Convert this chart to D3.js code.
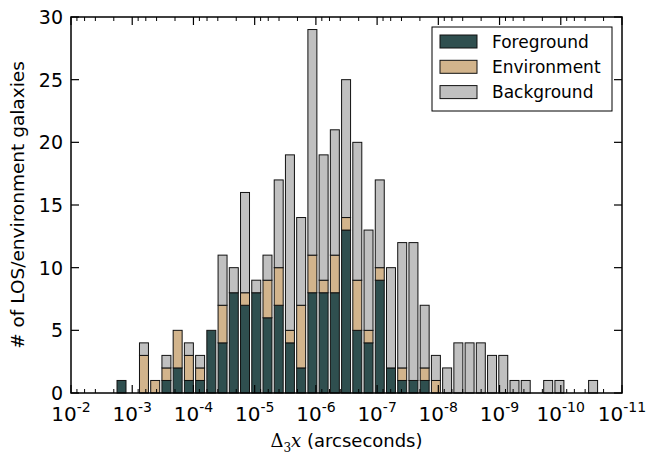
<!DOCTYPE html>
<html>
<head>
<meta charset="utf-8">
<script src="https://cdn.jsdelivr.net/npm/d3@7"></script>
<style>
  body { margin: 0; background: #fff; }
  text { font-family: "DejaVu Sans", sans-serif; }
</style>
</head>
<body>
<div id="chart"></div>
<script>
const width = 647;
const height = 455;
const margin = {left: 71, right: 25, top: 17, bottom: 62};

// histogram bins in log10(arcsec), first bin centre and bin step
const firstBin = -2.825;
const binStep = 0.1834;
// counts per bin (left = largest offsets)
const foreground = [1,0,0,0,1,2,1,1,5,4,8,7,8,6,7,4,2,8,8,8,13,5,4,9,2,1,1,1,0,0,0,0,0,0,0,0,0,0,0,0,0,0,0];
const environment = [0,0,3,1,1,3,2,1,0,3,0,1,0,3,3,1,5,3,1,3,1,4,1,1,0,1,0,1,1,0,0,0,0,0,0,0,0,0,0,0,0,0,0];
const background = [0,0,1,0,1,0,1,1,0,4,2,8,1,2,7,14,7,18,10,10,11,11,8,7,8,10,11,5,2,2,4,4,4,3,3,1,1,0,1,1,0,0,1];
const seriesNames = ['Foreground', 'Environment', 'Background'];
const colors = ['#2f4f4f', '#d2b48c', '#c0c0c0'];
const xTickExps = [-2, -3, -4, -5, -6, -7, -8, -9, -10, -11];
const yTicks = [0, 5, 10, 15, 20, 25, 30];

const table = foreground.map((d, i) => ({
    bin: firstBin - i * binStep,
    Foreground: d,
    Environment: environment[i],
    Background: background[i]
}));

const svg = d3.select('#chart')
    .append('svg')
    .attr('width', width)
    .attr('height', height);

const x = d3.scaleLog()
    .domain([1e-2, 1e-11])
    .range([margin.left, width - margin.right]);
const y = d3.scaleLinear()
    .domain([0, 30])
    .range([height - margin.bottom, margin.top]);

const stack = d3.stack().keys(seriesNames);
const layers = stack(table);

const barHalf = binStep * 0.4;
svg.append('g')
    .selectAll('g')
    .data(layers)
    .enter().append('g')
    .attr('fill', (d, i) => colors[i])
    .selectAll('rect')
    .data(d => d.filter(v => v[1] > v[0]))
    .enter().append('rect')
    .attr('x', d => x(Math.pow(10, d.data.bin + barHalf)))
    .attr('width', d => x(Math.pow(10, d.data.bin - barHalf)) - x(Math.pow(10, d.data.bin + barHalf)))
    .attr('y', d => y(d[1]))
    .attr('height', d => y(d[0]) - y(d[1]))
    .attr('stroke', '#111')
    .attr('stroke-width', 1);

// ticks (drawn inward, on all four sides)
const x0 = margin.left, x1 = width - margin.right;
const y0 = height - margin.bottom, y1 = margin.top;
const ticks = svg.append('g').attr('stroke', '#000');

xTickExps.forEach((e, i) => {
    const px = x(Math.pow(10, e));
    ticks.append('line').attr('x1', px).attr('x2', px).attr('y1', y0).attr('y2', y0 - 8).attr('stroke-width', 1.2);
    ticks.append('line').attr('x1', px).attr('x2', px).attr('y1', y1).attr('y2', y1 + 8).attr('stroke-width', 1.2);
    if (i < xTickExps.length - 1) {
        [2, 4, 6, 8].forEach(m => {
            const mx = x(m * Math.pow(10, e - 1));
            ticks.append('line').attr('x1', mx).attr('x2', mx).attr('y1', y0).attr('y2', y0 - 4);
            ticks.append('line').attr('x1', mx).attr('x2', mx).attr('y1', y1).attr('y2', y1 + 4);
        });
    }
    const lab = svg.append('text')
        .attr('x', px)
        .attr('y', 421)
        .attr('text-anchor', 'middle')
        .attr('font-size', 20);
    lab.append('tspan').text('10');
    lab.append('tspan').attr('font-size', 14).attr('dy', -9).text('-' + Math.abs(e));
});

yTicks.forEach(t => {
    const py = y(t);
    ticks.append('line').attr('x1', x0).attr('x2', x0 + 8).attr('y1', py).attr('y2', py).attr('stroke-width', 1.2);
    ticks.append('line').attr('x1', x1).attr('x2', x1 - 8).attr('y1', py).attr('y2', py).attr('stroke-width', 1.2);
    svg.append('text')
        .attr('x', x0 - 8)
        .attr('y', py)
        .attr('dy', '0.36em')
        .attr('text-anchor', 'end')
        .attr('font-size', 19)
        .text(t);
});

// frame
svg.append('rect')
    .attr('x', x0).attr('y', y1)
    .attr('width', x1 - x0).attr('height', y0 - y1)
    .attr('fill', 'none')
    .attr('stroke', '#000')
    .attr('stroke-width', 1.5);

// axis labels
const xl = svg.append('text')
    .attr('x', (x0 + x1) / 2)
    .attr('y', 447)
    .attr('text-anchor', 'middle')
    .attr('font-size', 18);
xl.append('tspan').attr('font-family', 'DejaVu Serif').text('\u0394');
xl.append('tspan').attr('font-family', 'DejaVu Serif').attr('font-size', 12).attr('dy', 5).text('3');
xl.append('tspan').attr('font-family', 'DejaVu Serif').attr('font-style', 'italic').attr('dy', -5).text('x');
xl.append('tspan').text(' (arcseconds)');

svg.append('text')
    .attr('transform', `translate(24, ${(y0 + y1) / 2}) rotate(-90)`)
    .attr('text-anchor', 'middle')
    .attr('font-size', 18.5)
    .text('# of LOS/environment galaxies');

// legend
const legend = svg.append('g').attr('transform', 'translate(432, 27)');
legend.append('rect')
    .attr('width', 180).attr('height', 84)
    .attr('fill', '#fff')
    .attr('stroke', '#000')
    .attr('stroke-width', 1);
seriesNames.forEach((name, i) => {
    legend.append('rect')
        .attr('x', 8).attr('y', 8 + i * 25.3)
        .attr('width', 37).attr('height', 13)
        .attr('fill', colors[i])
        .attr('stroke', '#111');
    legend.append('text')
        .attr('x', 60).attr('y', 14.5 + i * 25.3)
        .attr('dy', '0.36em')
        .attr('font-size', 17)
        .text(name);
});
</script>
</body>
</html>
